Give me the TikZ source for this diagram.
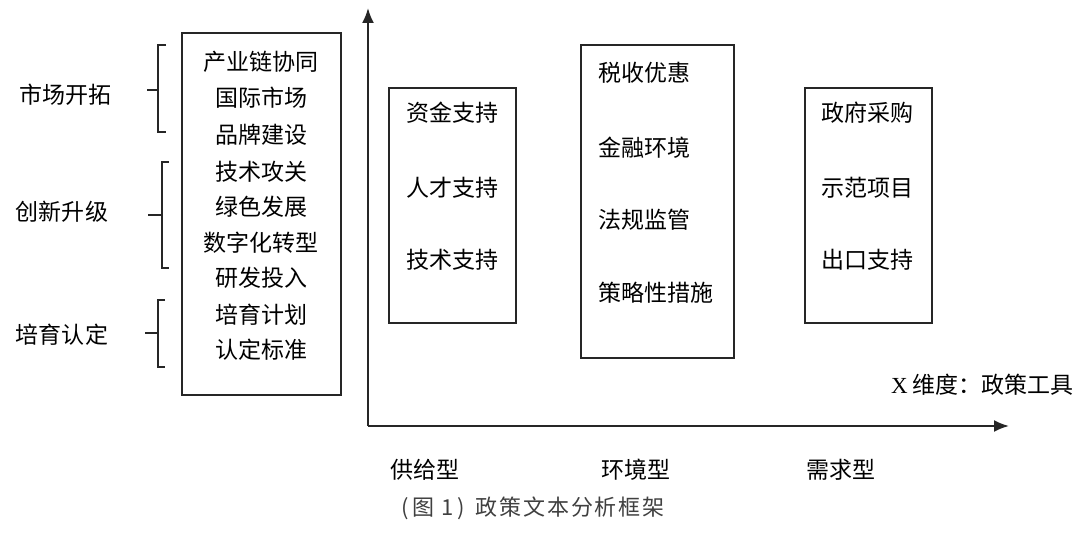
\documentclass[tikz,border=0pt]{standalone}
\usepackage{fontspec}
\setmainfont{Noto Sans CJK SC}
\newfontfamily\latinserif{Liberation Serif}
\usetikzlibrary{arrows.meta}
\tikzset{
  lbl/.style={inner sep=0pt, font=\fontsize{23}{27}\selectfont, text=black},
  frame/.style={draw=black!85, line width=1.5pt},
  brk/.style={draw=black!85, line width=1.6pt},
  axis/.style={draw=black!85, line width=2pt, -{Latex[length=15pt,width=12pt]}}
}
\begin{document}
\begin{tikzpicture}[x=1pt,y=-1pt]
\useasboundingbox (0,0) rectangle (1086,534);
% left box
\draw[frame] (182,33) rectangle (341,395);
\node[lbl] (l1) at (261,62) {产业链协同};
\node[lbl] (l2) at (261,98) {国际市场};
\node[lbl] (l3) at (261,135) {品牌建设};
\node[lbl] (l4) at (261,172) {技术攻关};
\node[lbl] (l5) at (261,207) {绿色发展};
\node[lbl] (l6) at (261,243) {数字化转型};
\node[lbl] (l7) at (261,278) {研发投入};
\node[lbl] (l8) at (261,315) {培育计划};
\node[lbl] (l9) at (261,350) {认定标准};
% category labels
\node[lbl] (c1) at (65,95) {市场开拓};
\node[lbl] (c2) at (62,212) {创新升级};
\node[lbl] (c3) at (62,335) {培育认定};
% brackets
\draw[brk] (166,45) -- (158,45) -- (158,132) -- (166,132);
\draw[brk] (147,90) -- (158,90);
\draw[brk] (169,162) -- (162,162) -- (162,268) -- (169,268);
\draw[brk] (148,215) -- (162,215);
\draw[brk] (165,300) -- (158,300) -- (158,367) -- (165,367);
\draw[brk] (145,333) -- (158,333);
% axes
\coordinate (O) at (368,426);
\coordinate (Ytop) at (368,8);
\coordinate (Xend) at (1009,426);
\draw[axis] (O) -- (Ytop);
\draw[axis] (O) -- (Xend);
% supply box
\draw[frame] (389,88) rectangle (516,323);
\node[lbl] (s1) at (452,113) {资金支持};
\node[lbl] (s2) at (452,188) {人才支持};
\node[lbl] (s3) at (452,260) {技术支持};
% environment box
\draw[frame] (581,45) rectangle (734,358);
\node[lbl, anchor=west] (e1) at (598,73) {税收优惠};
\node[lbl, anchor=west] (e2) at (598,148) {金融环境};
\node[lbl, anchor=west] (e3) at (598,220) {法规监管};
\node[lbl, anchor=west] (e4) at (598,293) {策略性措施};
% demand box
\draw[frame] (805,88) rectangle (932,323);
\node[lbl] (d1) at (867,113) {政府采购};
\node[lbl] (d2) at (867,188) {示范项目};
\node[lbl] (d3) at (867,260) {出口支持};
% axis label
\node[lbl, anchor=east] (xl) at (1074,385) {{\latinserif X} 维度：政策工具};
% bottom labels
\node[lbl] (b1) at (425,470) {供给型};
\node[lbl] (b2) at (636,470) {环境型};
\node[lbl] (b3) at (841,470) {需求型};
% caption
\node[inner sep=0pt, anchor=west, text=black!75, font=\fontsize{22}{26}\selectfont\addfontfeature{LetterSpace=8}] (cap) at (401,508) {(\hspace{4pt}图 1\hspace{4pt})\hspace{11pt}政策文本分析框架};
\end{tikzpicture}
\end{document}
